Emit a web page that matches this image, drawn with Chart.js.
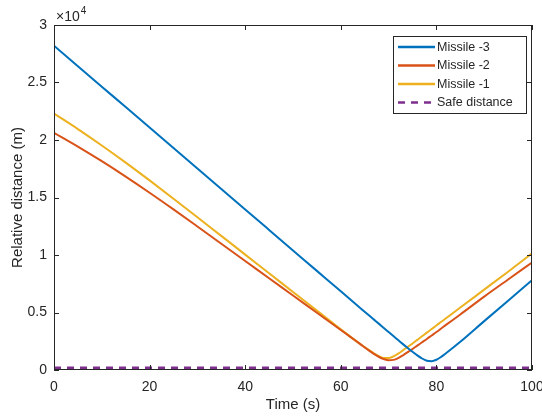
<!DOCTYPE html>
<html>
<head>
<meta charset="utf-8">
<script src="https://cdn.jsdelivr.net/npm/chart.js"></script>
<style>
  html, body { margin: 0; padding: 0; background: #fff; }
  #wrap { width: 542px; height: 418px; }
</style>
</head>
<body>
<div id="wrap"><canvas id="grafico"></canvas></div>
<script>
// tiempos (s) y distancias (m)
const tiempos = [0, 5, 10, 15, 20, 25, 30, 35, 40, 45, 50, 55, 60, 62, 64, 66, 67, 68, 69, 70, 71, 72, 73, 74, 75, 76, 77, 78, 79, 80, 81, 82, 85, 90, 95, 100];
const misil3 = [28200, 26420, 24640, 22860, 21080, 19300, 17520, 15740, 13960, 12180, 10400, 8620, 6840, 6130, 5420, 4710, 4360, 4010, 3650, 3300, 2950, 2600, 2250, 1910, 1580, 1270, 1000, 810, 770, 890, 1140, 1450, 2450, 4250, 6030, 7800];
const misil2 = [20630, 19430, 18155, 16815, 15415, 13965, 12480, 10980, 9480, 7980, 6480, 4980, 3480, 2880, 2270, 1660, 1380, 1130, 950, 850, 880, 1040, 1280, 1550, 1830, 2120, 2410, 2700, 3000, 3300, 3610, 3920, 4830, 6380, 7870, 9350];
const misil1 = [22300, 20950, 19525, 18035, 16485, 14895, 13285, 11660, 10035, 8410, 6785, 5160, 3535, 2900, 2280, 1700, 1430, 1200, 1050, 1040, 1180, 1420, 1710, 2010, 2310, 2620, 2930, 3250, 3560, 3870, 4190, 4500, 5430, 6990, 8550, 10150];
const tiemposSeguro = [0, 100];
const distSegura = [200, 200];
const etiquetas = ['Missile -3', 'Missile -2', 'Missile -1', 'Safe distance'];
const ticksX = [0, 20, 40, 60, 80, 100];
const ticksY = [0, 5000, 10000, 15000, 20000, 25000, 30000];

const colores = ['#0072BD', '#D95319', '#EDB120', '#7E2F8E'];
const ejeColor = '#262626';
const fuente = '"Liberation Sans", Arial, sans-serif';

function puntos(xs, ys) {
  return xs.map((x, i) => ({ x: x, y: ys[i] }));
}

// marco tipo MATLAB con ticks hacia adentro, multiplicador y leyenda
const marcoPlugin = {
  id: 'marco',
  afterDatasetsDraw(chart) {
    const ctx = chart.ctx;
    const a = chart.chartArea;
    const sx = chart.scales.x, sy = chart.scales.y;
    ctx.save();
    ctx.strokeStyle = ejeColor;
    ctx.lineWidth = 1;
    ctx.strokeRect(a.left + 0.5, a.top + 0.5, a.right - a.left - 1, a.bottom - a.top - 1);
    const tl = 5;
    ctx.beginPath();
    ticksX.forEach(v => {
      const px = Math.round(sx.getPixelForValue(v)) + 0.5;
      ctx.moveTo(px, a.bottom); ctx.lineTo(px, a.bottom - tl);
      ctx.moveTo(px, a.top); ctx.lineTo(px, a.top + tl);
    });
    ticksY.forEach(v => {
      const py = Math.round(sy.getPixelForValue(v)) + 0.5;
      ctx.moveTo(a.left, py); ctx.lineTo(a.left + tl, py);
      ctx.moveTo(a.right, py); ctx.lineTo(a.right - tl, py);
    });
    ctx.stroke();

    // x10^4
    ctx.fillStyle = ejeColor;
    ctx.textBaseline = 'alphabetic';
    ctx.textAlign = 'left';
    ctx.font = '14px ' + fuente;
    ctx.fillText('\u00d710', a.left + 2, a.top - 4);
    const w = ctx.measureText('\u00d710').width;
    ctx.font = '10px ' + fuente;
    ctx.fillText('4', a.left + 2 + w + 1, a.top - 11);

    // leyenda
    const lx = 393, ly = 36, lw = 133, lh = 77;
    ctx.fillStyle = '#fff';
    ctx.fillRect(lx, ly, lw, lh);
    ctx.strokeStyle = ejeColor;
    ctx.strokeRect(lx + 0.5, ly + 0.5, lw, lh);
    ctx.font = '12.5px ' + fuente;
    ctx.textBaseline = 'middle';
    chart.data.datasets.forEach((ds, i) => {
      const y = ly + 11 + i * 18.5;
      ctx.strokeStyle = ds.borderColor;
      ctx.lineWidth = 2.5;
      ctx.setLineDash(ds.borderDash || []);
      ctx.beginPath();
      ctx.moveTo(lx + 5, y);
      ctx.lineTo(lx + 42, y);
      ctx.stroke();
      ctx.setLineDash([]);
      ctx.fillStyle = ejeColor;
      ctx.fillText(ds.label, lx + 44, y + 0.5);
    });
    ctx.restore();
  }
};

const series = [misil3, misil2, misil1];
const datasets = series.map((s, i) => ({
  label: etiquetas[i],
  data: puntos(tiempos, s),
  borderColor: colores[i],
  borderWidth: 2,
  pointRadius: 0,
  cubicInterpolationMode: 'monotone',
  fill: false
}));
datasets.push({
  label: etiquetas[3],
  data: puntos(tiemposSeguro, distSegura),
  borderColor: colores[3],
  borderWidth: 2.5,
  borderDash: [7, 6],
  pointRadius: 0,
  fill: false
});

new Chart(document.getElementById('grafico'), {
  type: 'line',
  data: { datasets },
  options: {
    responsive: true,
    maintainAspectRatio: false,
    animation: false,
    layout: { padding: { top: 25, right: 10, left: 0, bottom: 0 } },
    plugins: { legend: { display: false }, tooltip: { enabled: false } },
    scales: {
      x: {
        type: 'linear',
        min: 0, max: 100,
        afterBuildTicks: s => { s.ticks = ticksX.map(v => ({ value: v })); },
        afterFit: s => { s.height = 48; s.paddingLeft = 0; s.paddingRight = 0; },
        grid: { display: false, drawTicks: false },
        border: { display: false },
        ticks: { color: ejeColor, font: { family: fuente, size: 14 }, padding: 9, maxRotation: 0 },
        title: { display: true, text: 'Time (s)', color: ejeColor, font: { family: fuente, size: 15 }, padding: { top: 0, bottom: 4 } }
      },
      y: {
        min: 0, max: 30000,
        afterBuildTicks: s => { s.ticks = ticksY.map(v => ({ value: v })); },
        afterFit: s => { s.width = 54; },
        grid: { display: false, drawTicks: false },
        border: { display: false },
        ticks: {
          color: ejeColor, font: { family: fuente, size: 14 }, padding: 7,
          callback: v => String(v / 10000)
        },
        title: { display: true, text: 'Relative distance (m)', color: ejeColor, font: { family: fuente, size: 15 }, padding: { top: 9, bottom: 0 } }
      }
    }
  },
  plugins: [marcoPlugin]
});
</script>
</body>
</html>
